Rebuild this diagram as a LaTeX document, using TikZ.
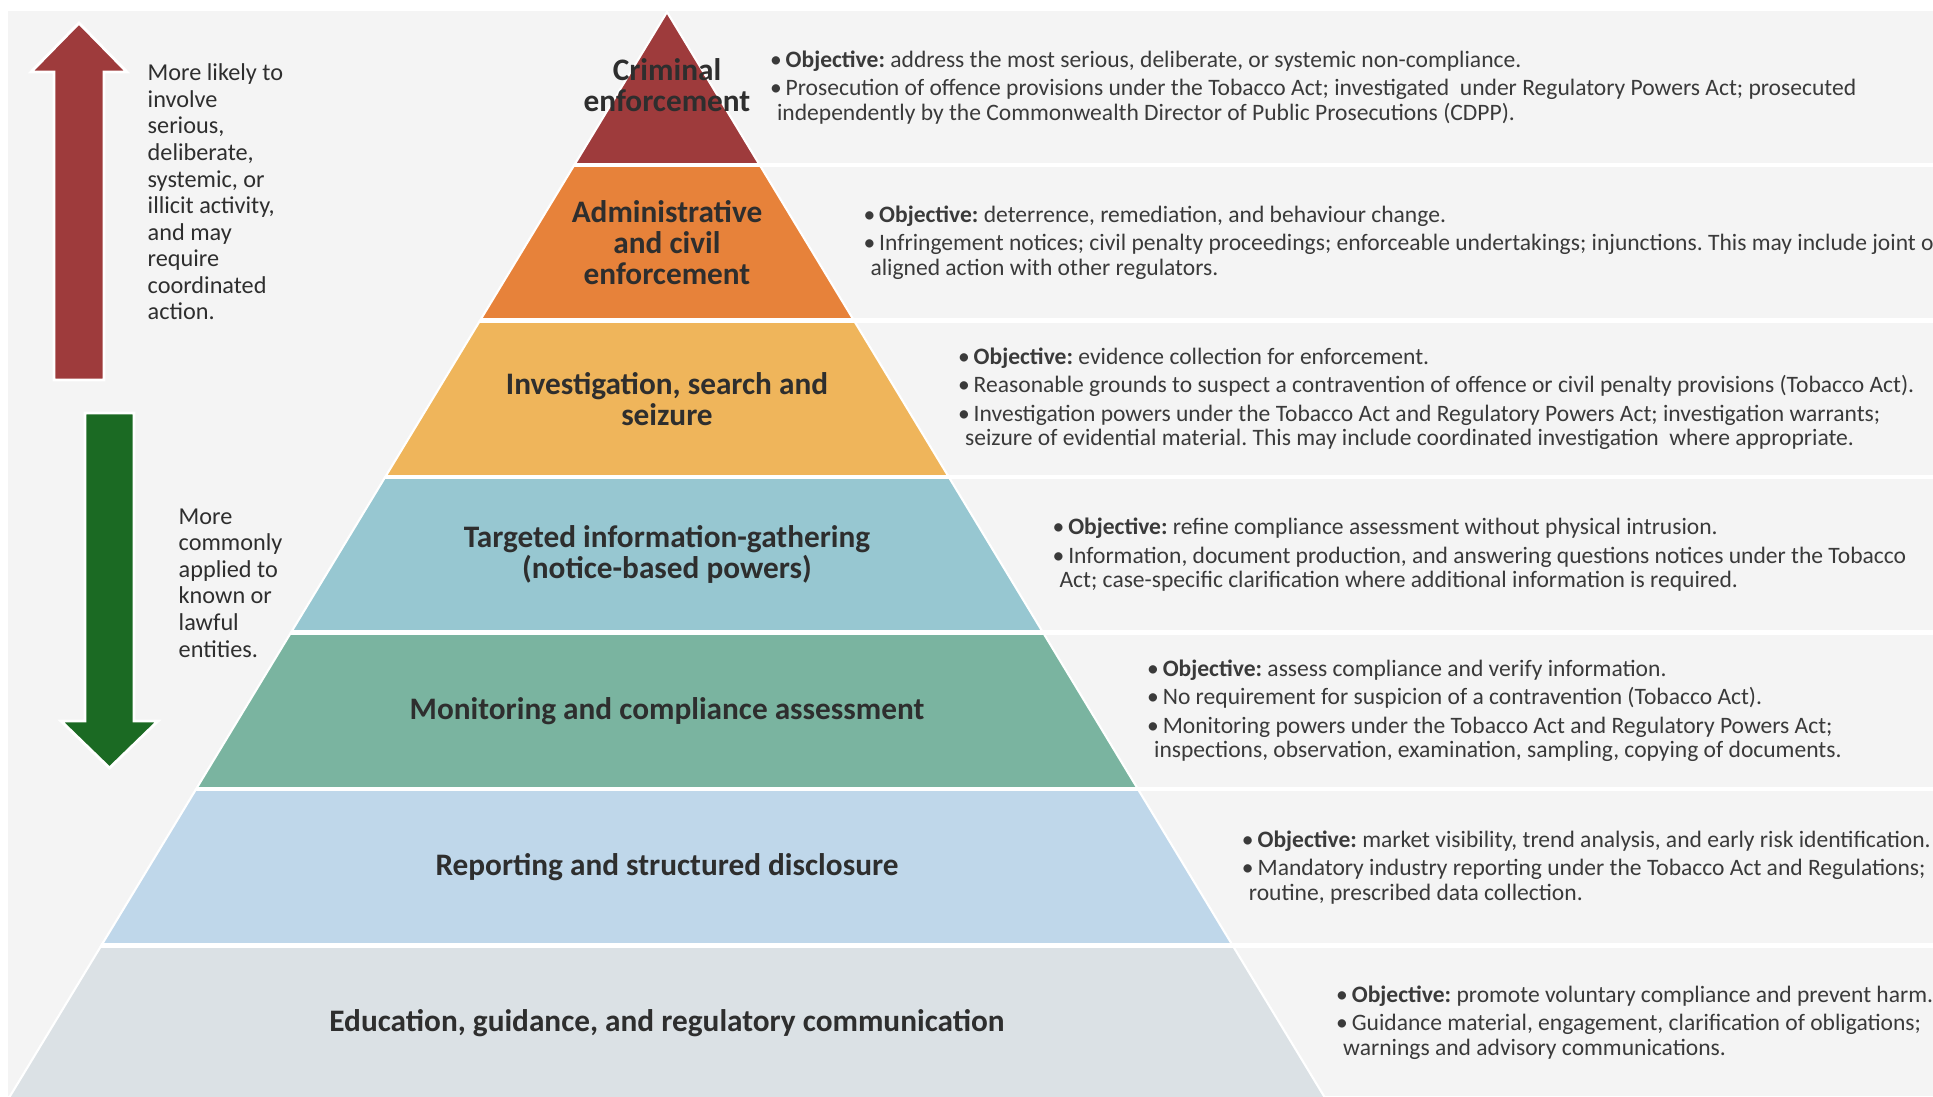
\documentclass[tikz,border=0pt]{standalone}
\usepackage{fontspec}
\setmainfont{Carlito}
\usetikzlibrary{calc}

\definecolor{panelgray}{HTML}{F4F4F4}
\definecolor{crimred}{HTML}{9E3B3C}
\definecolor{adminorange}{HTML}{E7823A}
\definecolor{investgold}{HTML}{EFB55B}
\definecolor{targetteal}{HTML}{97C7D1}
\definecolor{monitorgreen}{HTML}{7AB4A0}
\definecolor{reportblue}{HTML}{BFD7EA}
\definecolor{edugray}{HTML}{DBE1E5}
\definecolor{downgreen}{HTML}{1B6A23}
\definecolor{labelink}{HTML}{2E2E2E}
\definecolor{bodyink}{HTML}{3A3A3A}

\newcommand{\objline}[1]{\textbullet\,\textbf{Objective:} #1}
\newcommand{\bulline}[1]{\textbullet\,#1}
\newcommand{\contline}{\hspace*{0.07cm}}

\begin{document}
\begin{tikzpicture}[x=1cm,y=-1cm,
    lvltext/.style={align=center,inner sep=0pt,text=labelink,font=\fontsize{8.9pt}{8.8pt}\selectfont\bfseries},
    objtext/.style={anchor=west,align=left,inner sep=0pt,text=bodyink,font=\fontsize{6.7pt}{7pt}\selectfont\frenchspacing},
    sidetext/.style={anchor=west,align=left,inner sep=0pt,text=labelink,font=\fontsize{6.9pt}{7.55pt}\selectfont},
    blockarrow/.style={draw=white,line width=0.8pt}]

    % Canvas
    \clip (0,0) rectangle (19.33,10.96);
    \fill[white] (0,0) rectangle (19.33,10.96);
    \fill[panelgray] (0.08,0.11) rectangle (19.33,10.96);

    % Pyramid layers, apex at (6.67,0.12)
    \foreach \i/\yt/\yb/\col in {1/0.12/1.65/crimred,2/1.65/3.205/adminorange,3/3.205/4.77/investgold,
        4/4.77/6.325/targetteal,5/6.325/7.89/monitorgreen,6/7.89/9.455/reportblue,7/9.455/11.0/edugray} {
        \pgfmathsetmacro{\wt}{0.606*(\yt-0.12)}
        \pgfmathsetmacro{\wb}{0.606*(\yb-0.12)}
        \pgfmathsetmacro{\ym}{(\yt+\yb)/2}
        \pgfmathsetmacro{\wm}{0.606*(\ym-0.12)}
        \filldraw[fill=\col,draw=white,line width=0.6pt]
            (6.67-\wt,\yt) -- (6.67+\wt,\yt) -- (6.67+\wb,\yb) -- (6.67-\wb,\yb) -- cycle;
        \coordinate (c\i) at (6.67,\ym);
        \coordinate (r\i) at (6.67+\wm+0.56,\ym);
    }

    % Row separators
    \foreach \yb in {1.65,3.205,4.77,6.325,7.89,9.455} {
        \pgfmathsetmacro{\wb}{0.606*(\yb-0.12)}
        \draw[white,line width=1.3pt] (6.67-\wb,\yb) -- (19.4,\yb);
    }

    % Layer names
    \node[lvltext] (lvl1) at ($(c1)+(0,-0.03)$) {Criminal\\enforcement};
    \node[lvltext] (lvl2) at (c2) {Administrative\\and civil\\enforcement};
    \node[lvltext] (lvl3) at (c3) {Investigation, search and\\seizure};
    \node[lvltext] (lvl4) at (c4) {Targeted information-gathering\\(notice-based powers)};
    \node[lvltext] (lvl5) at (c5) {Monitoring and compliance assessment};
    \node[lvltext] (lvl6) at (c6) {Reporting and structured disclosure};
    \node[lvltext] (lvl7) at (c7) {Education, guidance, and regulatory communication};

    % Objectives and powers
    \node[objtext] (obj1) at ($(r1)+(0,-0.01)$) {\objline{address the most serious, deliberate, or systemic non-compliance.}\\[1.1pt]
        \bulline{Prosecution of offence provisions under the Tobacco Act; investigated\ \ under Regulatory Powers Act; prosecuted}\\
        \contline independently by the Commonwealth Director of Public Prosecutions (CDPP).};
    \node[objtext] (obj2) at (r2) {\objline{deterrence, remediation, and behaviour change.}\\[1.1pt]
        \bulline{Infringement notices; civil penalty proceedings; enforceable undertakings; injunctions. This may include joint or}\\
        \contline aligned action with other regulators.};
    \node[objtext] (obj3) at (r3) {\objline{evidence collection for enforcement.}\\[1.1pt]
        \bulline{Reasonable grounds to suspect a contravention of offence or civil penalty provisions (Tobacco Act).}\\[1.1pt]
        \bulline{Investigation powers under the Tobacco Act and Regulatory Powers Act; investigation warrants;}\\
        \contline seizure of evidential material. This may include coordinated investigation\ \ where appropriate.};
    \node[objtext] (obj4) at (r4) {\objline{refine compliance assessment without physical intrusion.}\\[1.1pt]
        \bulline{Information, document production, and answering questions notices under the Tobacco}\\
        \contline Act; case-specific clarification where additional information is required.};
    \node[objtext] (obj5) at (r5) {\objline{assess compliance and verify information.}\\[1.1pt]
        \bulline{No requirement for suspicion of a contravention (Tobacco Act).}\\[1.1pt]
        \bulline{Monitoring powers under the Tobacco Act and Regulatory Powers Act;}\\
        \contline inspections, observation, examination, sampling, copying of documents.};
    \node[objtext] (obj6) at (r6) {\objline{market visibility, trend analysis, and early risk identification.}\\[1.1pt]
        \bulline{Mandatory industry reporting under the Tobacco Act and Regulations;}\\
        \contline routine, prescribed data collection.};
    \node[objtext] (obj7) at (r7) {\objline{promote voluntary compliance and prevent harm.}\\[1.1pt]
        \bulline{Guidance material, engagement, clarification of obligations;}\\
        \contline warnings and advisory communications.};

    % Escalation arrows
    \filldraw[fill=crimred,blockarrow] (0.54,3.80) -- (0.54,0.72) -- (0.31,0.72) -- (0.79,0.23)
        -- (1.27,0.72) -- (1.04,0.72) -- (1.04,3.80) -- cycle;
    \filldraw[fill=downgreen,blockarrow] (0.85,4.13) -- (1.34,4.13) -- (1.34,7.21) -- (1.58,7.21)
        -- (1.095,7.68) -- (0.61,7.21) -- (0.85,7.21) -- cycle;

    \node[sidetext] (upnote) at (1.47,1.92) {More likely to\\involve\\serious,\\deliberate,\\systemic, or\\illicit activity,\\and may\\require\\coordinated\\action.};
    \node[sidetext] (downnote) at (1.78,5.83) {More\\commonly\\applied to\\known or\\lawful\\entities.};
\end{tikzpicture}
\end{document}
